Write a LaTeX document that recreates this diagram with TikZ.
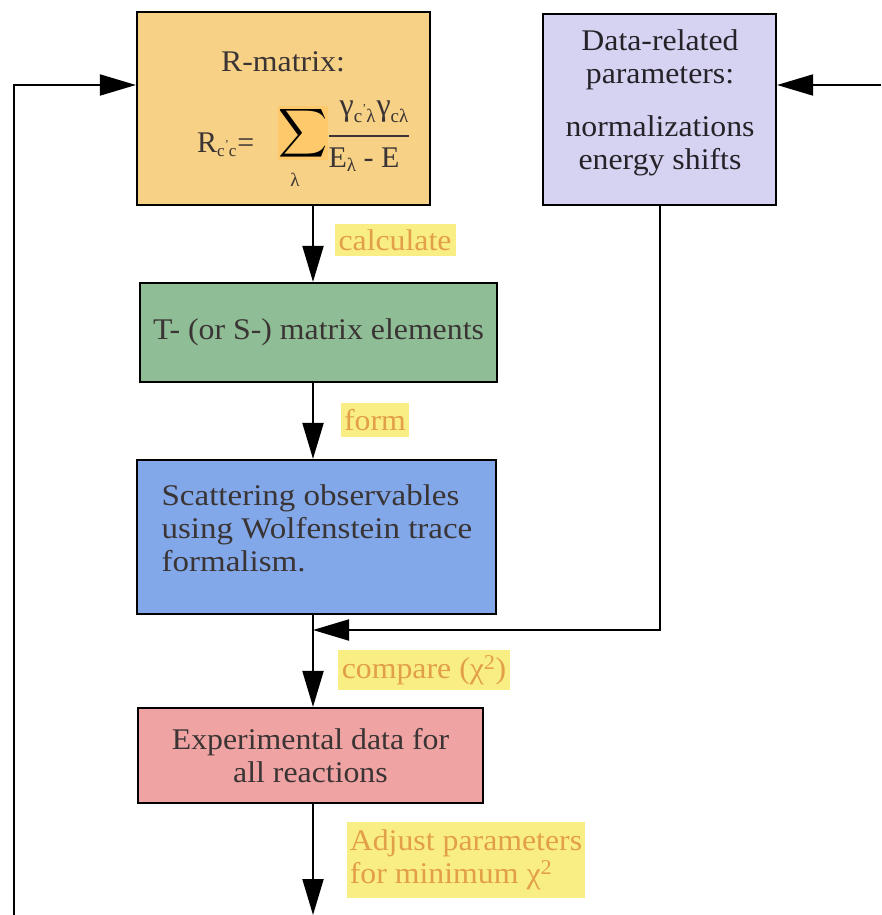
\documentclass[tikz,border=0pt]{standalone}
\usepackage{fontspec}
\setmainfont{Liberation Serif}
\usetikzlibrary{arrows.meta}
\definecolor{rfill}{HTML}{F6D186}
\definecolor{sigfill}{HTML}{FDC96A}
\definecolor{pfill}{HTML}{D5D2F2}
\definecolor{gfill}{HTML}{8FBE96}
\definecolor{bfill}{HTML}{82A8EA}
\definecolor{efill}{HTML}{F0A3A3}
\definecolor{hl}{HTML}{F9EE84}
\definecolor{lbltext}{HTML}{E39F45}
\definecolor{boxtext}{HTML}{3A3434}
\definecolor{ptext}{HTML}{252228}
\newcommand{\wide}[1]{\scalebox{1.06}[1]{#1}}
\tikzset{
  box/.style={draw=black, line width=2.2pt, inner sep=0pt, align=center, text=boxtext, font=\fontsize{30}{33}\selectfont},
  txt/.style={inner sep=0pt, text=boxtext, font=\fontsize{30}{33}\selectfont},
  lbl/.style={fill=hl, text=lbltext, inner xsep=3pt, inner ysep=2pt, font=\fontsize{30}{33}\selectfont, align=left},
  conn/.style={line width=2pt, -{Triangle[length=36pt,width=21pt]}}
}
\begin{document}
\begin{tikzpicture}[x=1pt,y=-1pt]
\useasboundingbox (0,0) rectangle (881,915);
% boxes
\node[box, fill=rfill, minimum width=293pt, minimum height=193pt] (R) at (283.5,108.5) {};
\node[box, fill=pfill, minimum width=233pt, minimum height=191pt] (P) at (659.5,109.5) {};
\node[box, fill=gfill, minimum width=357pt, minimum height=99pt] (T) at (318.5,332.5) {\wide{T- (or S-) matrix elements}};
\node[box, fill=bfill, minimum width=359pt, minimum height=154pt] (B) at (316.5,537) {};
\node[box, fill=efill, minimum width=345pt, minimum height=95pt] (E) at (310.5,755.5) {\wide{Experimental data for}\\\wide{all reactions}};
% R-matrix content
\node[txt] (rt) at (283,62) {\wide{R-matrix:}};
\node[txt, anchor=base west] (rl) at (197,152) {R\raisebox{-5pt}{\fontsize{17}{17}\selectfont c\raisebox{9pt}{\fontsize{12}{12}\selectfont '}c}\kern1pt=};
\node[fill=sigfill, inner sep=0pt, minimum width=42pt, minimum height=52pt] (sig) at (303,133) {\scalebox{3.4}{$\displaystyle\sum$}};
\node[txt, font=\fontsize{19}{19}\selectfont] (lam) at (295,180) {λ};
\node[txt, anchor=base] (num) at (374,116) {\fontsize{32}{32}\selectfont γ\raisebox{-7pt}{\fontsize{19}{19}\selectfont c\raisebox{10pt}{\fontsize{12}{12}\selectfont '}λ}\kern1pt γ\raisebox{-7pt}{\fontsize{19}{19}\selectfont cλ}};
\node[txt, anchor=base] (den) at (364,167) {E\raisebox{-5pt}{\fontsize{19}{19}\selectfont λ} - E};
\draw[line width=1.3pt, boxtext] (329,136) -- (409,136);
% purple content
\node[txt, text=ptext, align=center] (pt) at (660,103) {\wide{Data-related}\\\wide{parameters:}\\[20pt]\wide{normalizations}\\\wide{energy shifts}};
% blue content
\node[txt, align=left] (bt) at (317,528) {\scalebox{1.1}[1]{Scattering observables}\\\scalebox{1.1}[1]{using Wolfenstein trace}\\\scalebox{1.1}[1]{formalism.}};
% labels
\node[lbl, minimum width=121pt, minimum height=32pt] (l1) at (395,240) {\wide{calculate}};
\node[lbl, minimum width=64pt, minimum height=34pt] (l2) at (375,420) {\wide{form}};
\node[lbl, minimum width=172pt, minimum height=40pt] (l3) at (424,670) {\wide{compare (χ\textsuperscript{2})}};
\node[lbl, minimum width=236pt, minimum height=76pt] (l4) at (466,860) {\wide{Adjust parameters}\\\wide{for minimum χ\textsuperscript{2}}};
% coordinates
\coordinate (spine) at (313,0);
\coordinate (join) at (313,630);
\coordinate (lb) at (14,915);
\coordinate (lt) at (14,85);
\coordinate (rt2) at (881,85);
\coordinate (bot) at (313,915);
% connectors
\draw[conn] (R.south -| spine) -- (T.north -| spine);
\draw[conn] (T.south -| spine) -- (B.north -| spine);
\draw[conn] (B.south -| spine) -- (E.north -| spine);
\draw[conn] (P.south) |- (join);
\draw[conn] (E.south -| spine) -- (bot);
\draw[conn] (lb) -- (lt) -- (lt -| R.west);
\draw[conn] (rt2) -- (rt2 -| P.east);
\end{tikzpicture}
\end{document}
